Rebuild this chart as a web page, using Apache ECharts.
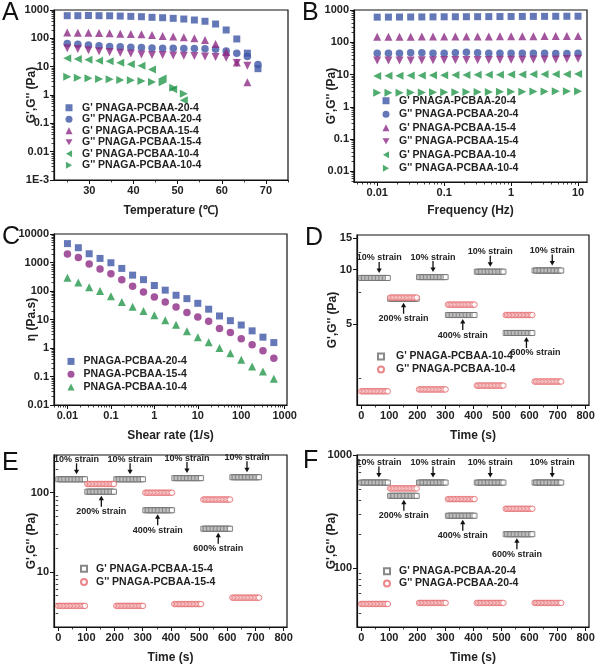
<!DOCTYPE html>
<html>
<head>
<meta charset="utf-8">
<script src="https://cdn.jsdelivr.net/npm/echarts@6/dist/echarts.min.js"></script>
<style>
  html, body { margin: 0; padding: 0; background: #fff; }
  #chart { width: 600px; height: 665px; }
</style>
</head>
<body>
<div id="chart"></div>
<script>
// ---- A: temperature sweep ----
const tempA = [25.0, 27.4, 29.8, 32.2, 34.6, 37.0, 39.4, 41.8, 44.2, 46.6, 49.0, 51.4, 53.8, 56.2, 58.6, 61.0, 63.4, 65.8, 68.2];
const gpA20 = [630, 630, 640, 630, 625, 610, 595, 580, 552, 535, 508, 480, 444, 400, 320, 197, 95, 30, 8.5];
const gppA20 = [66, 62, 58, 55, 52, 50, 48, 47, 46, 45, 45, 44, 44, 43, 41, 36, 30, 23, 12];
const gpA15 = [160, 158, 156, 153, 150, 146, 142, 139, 131, 121, 115, 109, 100, 87, 63, 33, 14, 2.8];
const gppA15 = [45, 42, 38, 35, 33, 31, 29, 27, 26, 26, 25, 24.5, 24, 23, 22, 20.5, 13.5, 10.8];
const gpA10 = [19.7, 18.7, 17.4, 16.2, 15.4, 13.7, 12.2, 10.8, 8, 3.8, 1.6, 0.65];
const gppA10 = [4.4, 4.1, 3.9, 3.7, 3.6, 3.4, 3.3, 3.1, 2.9, 2.8, 1.8, 1.1];

// ---- B: frequency sweep ----
const freqB = [0.01, 0.0147, 0.0215, 0.0316, 0.0464, 0.0681, 0.1, 0.147, 0.215, 0.316, 0.464, 0.681, 1, 1.47, 2.15, 3.16, 4.64, 6.81, 10];
const gpB20 = [600, 602, 605, 607, 610, 612, 615, 617, 620, 622, 625, 627, 630, 632, 634, 636, 638, 639, 640];
const gppB20 = [46, 46, 46, 47, 47, 46, 46, 47, 49, 47, 46, 46, 46, 46, 46, 46, 45, 45, 46];
const gpB15 = [148, 148, 149, 149, 150, 150, 150, 151, 151, 152, 152, 153, 153, 154, 154, 155, 155, 156, 156];
const gppB15 = [27, 27, 27, 27, 27.5, 27.5, 28, 28, 28, 28, 28, 28.5, 28.5, 28.5, 29, 29, 29, 30, 31];
const gpB10 = [9.0, 9.1, 9.2, 9.3, 9.4, 9.5, 9.5, 9.6, 9.7, 9.8, 9.8, 9.9, 10, 10, 10.1, 10.1, 10.2, 10.2, 10.3];
const gppB10 = [2.7, 2.7, 2.7, 2.75, 2.75, 2.8, 2.8, 2.8, 2.85, 2.85, 2.85, 2.9, 2.9, 2.9, 2.95, 2.95, 3.0, 3.0, 3.0];

// ---- C: viscosity vs shear rate ----
const shearC = [0.01, 0.0178, 0.0316, 0.0562, 0.1, 0.178, 0.316, 0.562, 1, 1.78, 3.16, 5.62, 10, 17.8, 31.6, 56.2, 100, 178, 316, 562];
const etaC20 = [4600, 3300, 2030, 1390, 980, 620, 360, 250, 156, 107, 71, 54, 37, 23, 13.3, 9.1, 6.4, 4.0, 2.4, 1.55];
const etaC15 = [2000, 1510, 880, 590, 400, 250, 148, 93, 62, 41, 27.6, 17.5, 12.3, 8.6, 4.8, 3.5, 2.1, 1.3, 0.8, 0.44];
const etaC10 = [290, 199, 136, 101, 66, 41, 28, 20, 14, 9.4, 6.6, 3.85, 2.4, 1.6, 1.0, 0.66, 0.39, 0.225, 0.15, 0.083];

// ---- D/E/F: step strain, one level per segment ----
const strainSeq = ['10%', '200%', '10%', '400%', '10%', '600%', '10%'];
const segStart = [0, 103, 206, 309, 412, 515, 618];
const stepTimes = [0, 5, 10, 15, 20, 25, 30, 35, 40, 45, 50, 55, 60, 65, 70, 75, 80, 85, 90, 95];
const arrowD = [64, 151, 256, 362, 460, 589, 681];
const arrowE = [65, 153, 255, 353, 457, 568, 670];
const arrowF = [63, 152, 256, 362, 460, 555, 681];
const gpD = [9.0, 6.9, 9.1, 5.6, 9.75, 4.45, 9.9];
const gppD = [2.11, 7.0, 2.16, 6.4, 2.27, 5.6, 2.39];
const gpE = [148, 103, 148, 60, 153, 35, 157];
const gppE = [3.7, 129, 3.7, 100, 3.9, 82, 4.7];
const gpF = [570, 435, 570, 290, 570, 199, 570];
const gppF = [48, 506, 49, 407, 49, 334, 49];

const FONT = '"Liberation Sans", Arial, sans-serif';
const BLUE = '#3d56a6', PURPLE = '#8c2b85', GREEN = '#23964a', GREY = '#6a6a6a', RED = '#e5686b';

const grids = [
  { left: 54, top: 10, width: 234, height: 170 },
  { left: 354, top: 10, width: 233, height: 172 },
  { left: 54, top: 234, width: 233, height: 171 },
  { left: 357, top: 235, width: 232, height: 170 },
  { left: 54, top: 455, width: 233, height: 172 },
  { left: 357, top: 455, width: 232, height: 172 }
].map(g => Object.assign(g, { show: true, borderColor: '#111', borderWidth: 1.2, outerBoundsMode: 'none' }));

function logMinors(lo, hi) {
  const out = [];
  for (let e = lo; e < hi; e++) for (let k = 2; k <= 9; k++) out.push(k * Math.pow(10, e));
  return out;
}
function fmtLog(v) {
  const e = Math.round(Math.log10(v));
  if (e <= -3) return '1E' + e;
  if (e < 0) return Math.pow(10, e).toFixed(-e);
  return String(Math.round(v));
}

const xAxes = [], yAxes = [];
function addAxis(list, g, o) {
  const isX = list === xAxes;
  const base = { gridIndex: g, type: o.type, min: o.min, max: o.max, position: isX ? 'bottom' : 'left', splitLine: { show: false } };
  list.push(Object.assign({}, base, {
    name: o.name, nameLocation: 'middle', nameGap: o.gap, nameMoveOverlap: false,
    nameTextStyle: { fontFamily: FONT, fontWeight: 'bold', fontSize: 12, color: '#222' },
    axisLine: { show: true, onZero: false, lineStyle: { color: '#111', width: 1.2 } },
    axisTick: { show: true, inside: false, length: 4, customValues: o.ticks, lineStyle: { color: '#111', width: 1 } },
    axisLabel: { show: true, customValues: o.ticks, margin: 5, formatter: o.fmt, fontFamily: FONT, fontWeight: 'bold', fontSize: 11, color: '#222' }
  }));
  list.push(Object.assign({}, base, {
    axisLine: { show: false },
    axisTick: { show: true, inside: false, length: 2.5, customValues: o.minors, lineStyle: { color: '#111', width: 0.8 } },
    axisLabel: { show: false }
  }));
}

const yTitle = "G',G'' (Pa)";
// A
addAxis(xAxes, 0, { type: 'value', min: 22, max: 75, ticks: [30, 40, 50, 60, 70], minors: [25, 35, 45, 55, 65, 75], name: 'Temperature (℃)', gap: 25 });
addAxis(yAxes, 0, { type: 'log', min: 0.001, max: 1000, ticks: [0.001, 0.01, 0.1, 1, 10, 100, 1000], minors: logMinors(-3, 3), fmt: fmtLog, name: yTitle, gap: 16 });
// B
addAxis(xAxes, 1, { type: 'log', min: 0.0045, max: 13.6, ticks: [0.01, 0.1, 1, 10], minors: logMinors(-3, 2), fmt: fmtLog, name: 'Frequency (Hz)', gap: 23 });
addAxis(yAxes, 1, { type: 'log', min: 0.00465, max: 1000, ticks: [0.01, 0.1, 1, 10, 100, 1000], minors: logMinors(-3, 3), fmt: fmtLog, name: yTitle, gap: 16 });
// C
addAxis(xAxes, 2, { type: 'log', min: 0.0049, max: 1130, ticks: [0.01, 0.1, 1, 10, 100, 1000], minors: logMinors(-3, 4), fmt: fmtLog, name: 'Shear rate (1/s)', gap: 25 });
addAxis(yAxes, 2, { type: 'log', min: 0.01, max: 10000, ticks: [0.01, 0.1, 1, 10, 100, 1000, 10000], minors: logMinors(-2, 4), fmt: fmtLog, name: 'η (Pa.s)', gap: 16 });
// D, E, F
const timeTicks = [0, 100, 200, 300, 400, 500, 600, 700, 800];
const timeMinors = [50, 150, 250, 350, 450, 550, 650, 750];
[3, 4, 5].forEach(g => addAxis(xAxes, g, { type: 'value', min: -15, max: 812, ticks: timeTicks, minors: timeMinors, name: 'Time (s)', gap: 25 }));
addAxis(yAxes, 3, { type: 'log', min: 1.77, max: 15.6, ticks: [5, 10, 15], minors: [2.5, 7.5, 12.5], name: yTitle, gap: 18 });
addAxis(yAxes, 4, { type: 'log', min: 2, max: 300, ticks: [10, 100], minors: logMinors(0, 3), fmt: fmtLog, name: yTitle, gap: 16 });
addAxis(yAxes, 5, { type: 'log', min: 30, max: 1000, ticks: [100, 1000], minors: logMinors(1, 3), fmt: fmtLog, name: yTitle, gap: 19 });

const series = [];
const iconOf = {};
function scatter(g, name, pts, o) {
  const id = g + '|' + name;
  iconOf[id] = o.icon || o.symbol;
  series.push({
    type: 'scatter', name: id, xAxisIndex: 2 * g, yAxisIndex: 2 * g,
    symbol: o.symbol, symbolSize: o.size, symbolRotate: o.rot || 0,
    itemStyle: o.hollow ? { color: '#fff', borderColor: o.color, borderWidth: 1 } : { color: o.color },
    data: pts, silent: true
  });
}
const zip = (xs, ys) => ys.map((y, i) => [xs[i], y]);
const segPts = levels => {
  const pts = [];
  segStart.forEach((s, k) => stepTimes.forEach(dt => pts.push([s + dt, levels[k]])));
  return pts;
};

const sq = { symbol: 'rect', size: 7 }, ci = { symbol: 'circle', size: 7.5 };
const up = { symbol: 'triangle', size: 8 };
const dn = { symbol: 'triangle', size: 8, rot: 180, icon: 'path://M0,0L10,0L5,8.7Z' };
const lf = { symbol: 'triangle', size: 8, rot: 90, icon: 'path://M8.7,0L8.7,10L0,5Z' };
const rt = { symbol: 'triangle', size: 8, rot: -90, icon: 'path://M0,0L0,10L8.7,5Z' };
const six = ["G' PNAGA-PCBAA-20-4", "G'' PNAGA-PCBAA-20-4", "G' PNAGA-PCBAA-15-4", "G'' PNAGA-PCBAA-15-4", "G' PNAGA-PCBAA-10-4", "G'' PNAGA-PCBAA-10-4"];

[[0, tempA, [gpA20, gppA20, gpA15, gppA15, gpA10, gppA10]], [1, freqB, [gpB20, gppB20, gpB15, gppB15, gpB10, gppB10]]].forEach(([g, xs, ys]) => {
  scatter(g, six[0], zip(xs, ys[0]), Object.assign({ color: BLUE }, sq));
  scatter(g, six[1], zip(xs, ys[1]), Object.assign({ color: BLUE }, ci));
  scatter(g, six[2], zip(xs, ys[2]), Object.assign({ color: PURPLE }, up));
  scatter(g, six[3], zip(xs, ys[3]), Object.assign({ color: PURPLE }, dn));
  scatter(g, six[4], zip(xs, ys[4]), Object.assign({ color: GREEN }, lf));
  scatter(g, six[5], zip(xs, ys[5]), Object.assign({ color: GREEN }, rt));
});
const threeC = ['PNAGA-PCBAA-20-4', 'PNAGA-PCBAA-15-4', 'PNAGA-PCBAA-10-4'];
scatter(2, threeC[0], zip(shearC, etaC20), Object.assign({ color: BLUE }, sq));
scatter(2, threeC[1], zip(shearC, etaC15), Object.assign({ color: PURPLE }, ci));
scatter(2, threeC[2], zip(shearC, etaC10), Object.assign({ color: GREEN }, up));

// label nudges (px) keep the D 600% label clear of its legend
const stepSets = [
  [3, '10-4', gpD, gppD, arrowD, [0, 0, 0, 0, 0, 9, 0]],
  [4, '15-4', gpE, gppE, arrowE, [0, 0, 0, 0, 0, 0, 0]],
  [5, '20-4', gpF, gppF, arrowF, [0, 0, 0, 0, 0, 0, 0]]
];
stepSets.forEach(([g, tag, gp, gpp]) => {
  scatter(g, "G' PNAGA-PCBAA-" + tag, segPts(gp), { symbol: 'rect', size: 5, color: GREY, hollow: true });
  scatter(g, "G'' PNAGA-PCBAA-" + tag, segPts(gpp), { symbol: 'circle', size: 5.5, color: RED, hollow: true });
});

function legend(g, names, left, top, pitch, box, pad) {
  return {
    orient: 'vertical', left, top, itemWidth: box, itemHeight: box, itemGap: 0, padding: 0,
    selectedMode: false,
    data: names.map(n => ({ name: g + '|' + n, icon: iconOf[g + '|' + n] })),
    formatter: n => n.split('|')[1],
    textStyle: { fontFamily: FONT, fontWeight: 'bold', fontSize: 10.5, color: '#222', lineHeight: pitch, padding: [0, 0, 0, pad] }
  };
}
const legends = [
  legend(0, six, 65.5, 102, 11.5, 7, 4.5),
  legend(1, six, 382.5, 94, 13.5, 7, 4.5),
  legend(2, threeC, 67.5, 355, 12.8, 7, 4),
  legend(3, ["G' PNAGA-PCBAA-10-4", "G'' PNAGA-PCBAA-10-4"], 377, 350, 13, 6, 7),
  legend(4, ["G' PNAGA-PCBAA-15-4", "G'' PNAGA-PCBAA-15-4"], 80, 562, 13.3, 6, 4),
  legend(5, ["G' PNAGA-PCBAA-20-4", "G'' PNAGA-PCBAA-20-4"], 383, 565, 12.3, 6, 4)
];

const letters = [['A', 2, 13], ['B', 302, 13], ['C', 2, 237], ['D', 305, 238], ['E', 2, 463], ['F', 303, 461]];

const chart = echarts.init(document.getElementById('chart'), null, { renderer: 'canvas' });
chart.setOption({
  animation: false,
  backgroundColor: '#fff',
  grid: grids,
  xAxis: xAxes,
  yAxis: yAxes,
  legend: legends,
  series
});

const graphics = letters.map(([t, x, y]) => ({
  type: 'text', x, y, silent: true,
  style: { text: t, fontFamily: FONT, fontSize: 25, fill: '#111', verticalAlign: 'middle' }
}));
stepSets.forEach(([g, , gp, , arrowT, nudge]) => {
  strainSeq.forEach((lab, k) => {
    const p = chart.convertToPixel({ xAxisIndex: 2 * g, yAxisIndex: 2 * g }, [arrowT[k], gp[k]]);
    const above = lab === '10%';
    const x = p[0], y = p[1];
    const head = above ? y - 5 : y + 4;
    const tail = above ? y - 16 : y + 15;
    const dir = above ? 1 : -1;
    graphics.push({ type: 'line', silent: true, shape: { x1: x, y1: tail, x2: x, y2: head - dir * 3 }, style: { stroke: '#111', lineWidth: 1.3 } });
    graphics.push({ type: 'polygon', silent: true, shape: { points: [[x - 2.6, head - dir * 4.5], [x + 2.6, head - dir * 4.5], [x, head]] }, style: { fill: '#111' } });
    graphics.push({ type: 'text', silent: true, x: x + nudge[k], y: above ? y - 20 : y + 20,
      style: { text: lab + ' strain', fontFamily: FONT, fontWeight: 'bold', fontSize: 9, fill: '#222', align: 'center', verticalAlign: 'middle' } });
  });
});
chart.setOption({ graphic: graphics });
</script>
</body>
</html>
